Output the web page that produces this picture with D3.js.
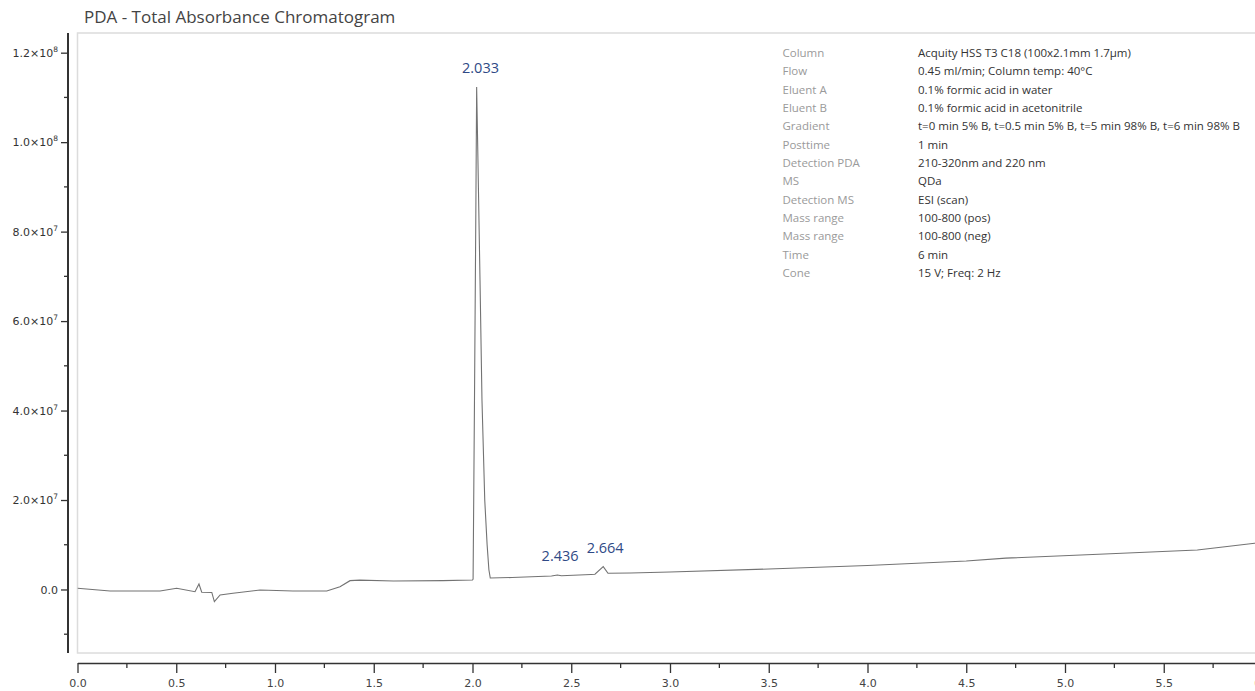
<!DOCTYPE html>
<html>
<head>
<meta charset="utf-8">
<script src="https://cdn.jsdelivr.net/npm/d3@7"></script>
<style>
  body { margin: 0; background: #fff; }
  svg { display: block; }
</style>
</head>
<body>
<div id="chart"></div>
<script>
// Retention time (min) and absorbance (x 1e6)
const rtMin = [
  0.000, 0.165, 0.418, 0.502, 0.595, 0.615, 0.629, 0.680, 0.693, 0.722,
  0.787, 0.924, 1.091, 1.262, 1.329, 1.380, 1.430, 1.600, 1.850, 2.000,
  2.003, 2.010, 2.017, 2.021, 2.026, 2.038, 2.048, 2.062, 2.074, 2.083,
  2.090, 2.200, 2.400, 2.430, 2.450, 2.600, 2.620, 2.662, 2.686, 2.800,
  3.000, 3.500, 4.000, 4.500, 4.700, 5.200, 5.670, 5.810, 5.960, 6.000
];
const absorbance = [
  0.27, -0.34, -0.34, 0.27, -0.49, 1.23, -0.63, -0.67, -2.73, -1.23,
  -0.85, -0.11, -0.34, -0.34, 0.63, 1.97, 2.08, 1.90, 1.97, 2.12,
  2.30, 42.0, 85.0, 112.3, 100.0, 69.2, 42.3, 20.0, 10.0, 4.4,
  2.57, 2.68, 3.02, 3.24, 3.06, 3.35, 3.40, 5.10, 3.62, 3.69,
  3.91, 4.58, 5.36, 6.37, 7.00, 7.93, 8.83, 9.56, 10.32, 10.39
];

// labelled peaks
const peakLabels = ['2.033', '2.436', '2.664'];
const peakApex = [112.3, 3.24, 5.10];

// axis ticks
const yMajorTicks = [0, 2e7, 4e7, 6e7, 8e7, 1e8, 1.2e8];
const yMinorTicks = [-1e7, 1e7, 3e7, 5e7, 7e7, 9e7, 1.1e8];
const xMajorTicks = [0, 0.5, 1, 1.5, 2, 2.5, 3, 3.5, 4, 4.5, 5, 5.5, 6];
const xMinorTicks = [0.25, 0.75, 1.25, 1.75, 2.25, 2.75, 3.25, 3.75, 4.25, 4.75, 5.25, 5.75];

// method table
const infoLabels = ['Column', 'Flow', 'Eluent A', 'Eluent B', 'Gradient', 'Posttime',
  'Detection PDA', 'MS', 'Detection MS', 'Mass range', 'Mass range', 'Time', 'Cone'];
const infoValues = [
  'Acquity HSS T3 C18 (100x2.1mm 1.7\u00b5m)',
  '0.45 ml/min; Column temp: 40\u00b0C',
  '0.1% formic acid in water',
  '0.1% formic acid in acetonitrile',
  't=0 min 5% B, t=0.5 min 5% B, t=5 min 98% B, t=6 min 98% B',
  '1 min',
  '210-320nm and 220 nm',
  'QDa',
  'ESI (scan)',
  '100-800 (pos)',
  '100-800 (neg)',
  '6 min',
  '15 V; Freq: 2 Hz'
];

const width = 1255;
const height = 691;
const plot = { left: 77.5, top: 33, bottom: 653 };

const svg = d3.select('#chart')
  .append('svg')
  .attr('width', width)
  .attr('height', height);

const x = d3.scaleLinear().domain([0, 6]).range([plot.left, 1262.5]);
const y = d3.scaleLinear().domain([-14.2e6, 124.4e6]).range([plot.bottom, plot.top]);

// title
svg.append('text')
  .attr('x', 84)
  .attr('y', 23)
  .attr('font-family', 'Open Sans, sans-serif')
  .attr('font-size', '17px')
  .attr('fill', '#444')
  .text('PDA - Total Absorbance Chromatogram');

// light plot frame
svg.append('rect')
  .attr('x', plot.left)
  .attr('y', plot.top)
  .attr('width', width - plot.left + 5)
  .attr('height', plot.bottom - plot.top)
  .attr('fill', 'none')
  .attr('stroke', '#dcdcdc')
  .attr('stroke-width', 1.5);

// y axis
const yAxis = svg.append('g')
  .attr('transform', 'translate(68,0)')
  .call(d3.axisLeft(y).tickValues(yMajorTicks).tickSize(7).tickSizeOuter(0).tickPadding(3));

yAxis.select('.domain')
  .attr('d', `M0,${plot.top}V${plot.bottom}`)
  .attr('stroke', '#333')
  .attr('stroke-width', 2);
yAxis.selectAll('.tick line').attr('stroke', '#333').attr('stroke-width', 1.3);

yAxis.selectAll('.tick text')
  .attr('font-family', 'DejaVu Sans, sans-serif')
  .attr('font-size', '11px')
  .attr('fill', '#333')
  .each(function(d) {
    const t = d3.select(this).text('');
    if (d === 0) {
      t.text('0.0');
      return;
    }
    const exp = Math.floor(Math.log10(d));
    const mant = d / Math.pow(10, exp);
    t.append('tspan').text(mant.toFixed(1) + '\u00d710');
    t.append('tspan').attr('font-size', '7.5px').attr('dy', '-5').text(exp);
  });

yAxis.selectAll('.minor')
  .data(yMinorTicks)
  .join('line')
  .attr('class', 'minor')
  .attr('x1', -4)
  .attr('x2', 0)
  .attr('y1', d => y(d))
  .attr('y2', d => y(d))
  .attr('stroke', '#333')
  .attr('stroke-width', 1.3);

// x axis
const xAxis = svg.append('g')
  .attr('transform', 'translate(0,663)')
  .call(d3.axisBottom(x).tickValues(xMajorTicks).tickSize(10).tickSizeOuter(0)
    .tickPadding(6).tickFormat(d3.format('.1f')));

xAxis.select('.domain').attr('stroke', '#333').attr('stroke-width', 1.5);
xAxis.selectAll('.tick line').attr('stroke', '#333').attr('stroke-width', 1.3);
xAxis.selectAll('.tick text')
  .attr('font-family', 'DejaVu Sans, sans-serif')
  .attr('font-size', '11px')
  .attr('fill', '#444');

xAxis.selectAll('.minor')
  .data(xMinorTicks)
  .join('line')
  .attr('class', 'minor')
  .attr('x1', d => x(d))
  .attr('x2', d => x(d))
  .attr('y1', 0)
  .attr('y2', 5)
  .attr('stroke', '#333')
  .attr('stroke-width', 1.3);

// trace
svg.append('clipPath')
  .attr('id', 'clip')
  .append('rect')
  .attr('x', plot.left)
  .attr('y', plot.top)
  .attr('width', width - plot.left)
  .attr('height', plot.bottom - plot.top);

const points = rtMin.map((t, i) => [t, absorbance[i] * 1e6]);

svg.append('path')
  .datum(points)
  .attr('clip-path', 'url(#clip)')
  .attr('fill', 'none')
  .attr('stroke', '#737373')
  .attr('stroke-width', 1.1)
  .attr('d', d3.line().x(d => x(d[0])).y(d => y(d[1])));

// peak labels
svg.append('g')
  .selectAll('text')
  .data(peakLabels)
  .join('text')
  .attr('x', (d, i) => x(+d) + 1.5)
  .attr('y', (d, i) => y(peakApex[i] * 1e6) - 14)
  .attr('text-anchor', 'middle')
  .attr('font-family', 'Open Sans, sans-serif')
  .attr('font-size', '14.5px')
  .attr('fill', '#2f4a86')
  .text(d => d);

// method table
const info = svg.append('g')
  .attr('font-family', 'Open Sans, sans-serif')
  .attr('font-size', '11.5px');

info.selectAll('.lbl')
  .data(infoLabels)
  .join('text')
  .attr('class', 'lbl')
  .attr('x', 782.5)
  .attr('y', (d, i) => 57 + i * 18.33)
  .attr('fill', '#9a9a9a')
  .text(d => d);

info.selectAll('.val')
  .data(infoValues)
  .join('text')
  .attr('class', 'val')
  .attr('x', 918)
  .attr('y', (d, i) => 57 + i * 18.33)
  .attr('fill', '#333')
  .text(d => d);
</script>
</body>
</html>
